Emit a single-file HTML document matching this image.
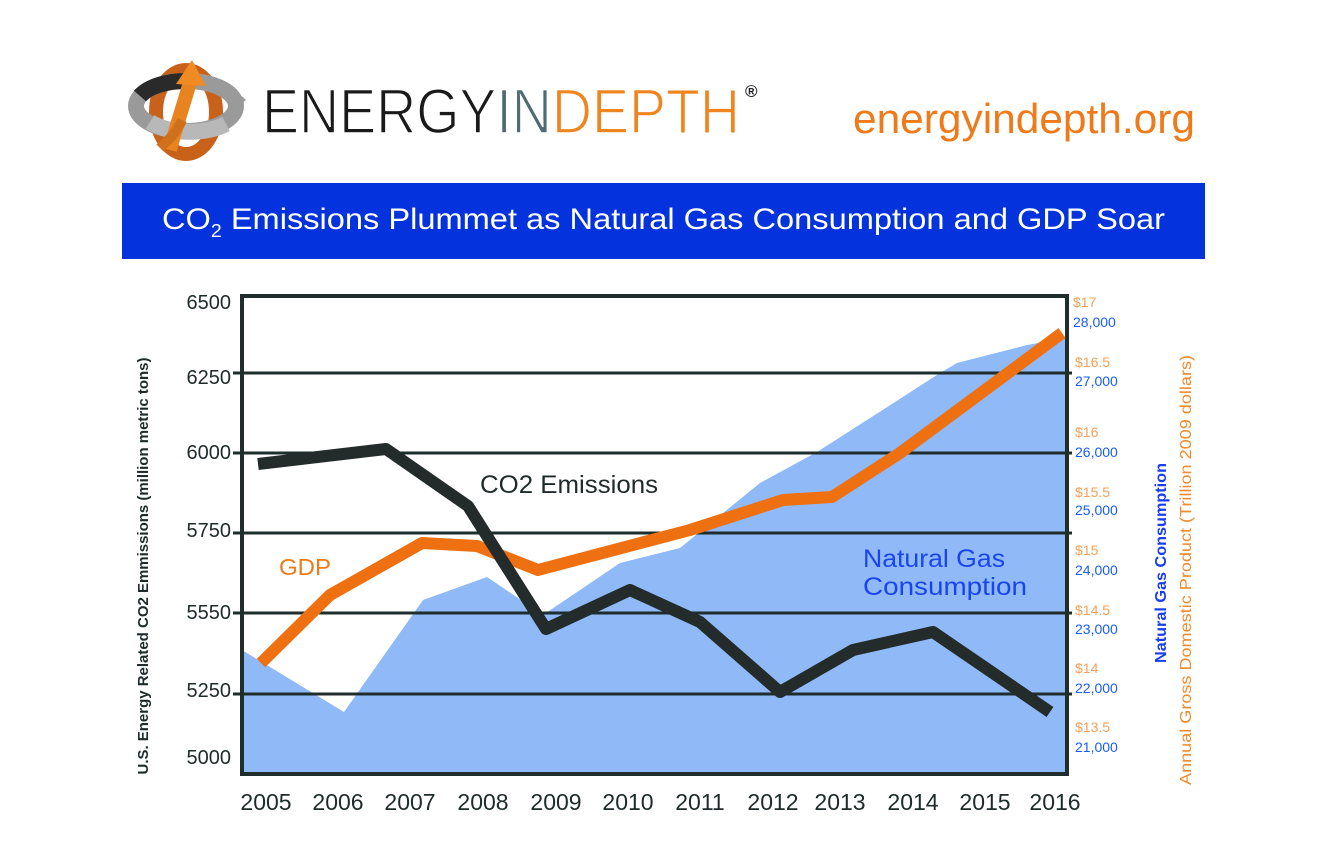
<!DOCTYPE html>
<html>
<head>
<meta charset="utf-8">
<style>
  html,body{margin:0;padding:0;background:#fff;}
  body{width:1335px;height:864px;overflow:hidden;}
  svg{display:block;}
  text{font-family:"Liberation Sans","DejaVu Sans",sans-serif;}
</style>
</head>
<body>
<svg width="1335" height="864" viewBox="0 0 1335 864" xmlns="http://www.w3.org/2000/svg">
  <rect width="1335" height="864" fill="#ffffff"/>

  <!-- Logo icon -->
  <g>
    <ellipse cx="186" cy="112" rx="30" ry="42" fill="none" stroke="#c8621a" stroke-width="14"/>
    <ellipse cx="186" cy="106" rx="50" ry="25" fill="none" stroke="#9a9a9a" stroke-width="16"/>
    <path d="M140,96 A50,25 0 0,1 186,81" fill="none" stroke="#2a2a2a" stroke-width="16"/>
    <path d="M150,122 A50,25 0 0,0 226,124" fill="none" stroke="#b8b8b8" stroke-width="16"/>
    <path d="M170,150 C175,130 182,110 190,82" fill="none" stroke="#e88420" stroke-width="14"/>
    <polygon points="176,84 192,60 206,86" fill="#f08a22"/>
    <polygon points="228,114 246,100 228,84" fill="#9a9a9a"/>
    <path d="M160,148 C168,140 176,134 182,120" fill="none" stroke="#d0701c" stroke-width="10"/>
  </g>

  <!-- Logo text (thinned with white stroke) -->
  <text x="262" y="133" font-size="63" textLength="478" lengthAdjust="spacingAndGlyphs" stroke="#ffffff" stroke-width="1.6"><tspan fill="#1a1a1a">ENERGY</tspan><tspan fill="#4e6c72">IN</tspan><tspan fill="#f0841e">DEPTH</tspan></text>
  <text x="745" y="97" font-size="17" font-weight="bold" fill="#222">®</text>

  <text x="853" y="133" font-size="42" textLength="342" lengthAdjust="spacingAndGlyphs" fill="#ef7a1a">energyindepth.org</text>

  <!-- Title bar -->
  <rect x="122" y="183" width="1083" height="76" fill="#0433dd"/>
  <text x="162" y="229" font-size="30" fill="#ffffff" textLength="1003" lengthAdjust="spacingAndGlyphs">CO<tspan font-size="18" dy="8">2</tspan><tspan dy="-8"> Emissions Plummet as Natural Gas Consumption and GDP Soar</tspan></text>

  <!-- natural gas area -->
  <polygon fill="#8fb9f7" points="242,650 344,712 423,600 487,577 543,615 620,563 680,548 760,483 817,452 867,420 940,373 957,363 1027,345 1067,338 1067,774 242,774"/>

  <!-- gridlines -->
  <g stroke="#1f2d2d" stroke-width="3">
    <line x1="233" y1="373" x2="1072" y2="373"/>
    <line x1="233" y1="453" x2="1072" y2="453"/>
    <line x1="233" y1="533" x2="1072" y2="533"/>
    <line x1="233" y1="613" x2="1072" y2="613"/>
    <line x1="233" y1="694" x2="1072" y2="694"/>
  </g>
  <rect x="242" y="296" width="825" height="478" fill="none" stroke="#1f2d2d" stroke-width="4"/>

  <!-- GDP line -->
  <polyline fill="none" stroke="#ef7010" stroke-width="12" stroke-linejoin="round" points="261,663 330,595 422,543 477,546 538,570 690,530 783,500 832,497 900,453 1062,333"/>

  <!-- CO2 line -->
  <polyline fill="none" stroke="#232b2b" stroke-width="12" stroke-linejoin="round" points="258,464 386,449 468,506 546,629 630,590 700,622 780,692 853,650 933,632 1050,712"/>

  <!-- in-chart labels -->
  <text x="480" y="493" font-size="25" fill="#1f2a2a" textLength="178" lengthAdjust="spacingAndGlyphs">CO2 Emissions</text>
  <text x="279" y="575" font-size="23" fill="#ef7a1a" textLength="52" lengthAdjust="spacingAndGlyphs">GDP</text>
  <text x="863" y="567" font-size="25" fill="#1a44ee" textLength="142" lengthAdjust="spacingAndGlyphs">Natural Gas</text>
  <text x="863" y="595" font-size="25" fill="#1a44ee" textLength="164" lengthAdjust="spacingAndGlyphs">Consumption</text>

  <!-- left axis labels -->
  <g font-size="20" fill="#1f2a2a" text-anchor="end">
    <text x="231" y="309">6500</text>
    <text x="231" y="384">6250</text>
    <text x="231" y="459">6000</text>
    <text x="231" y="537">5750</text>
    <text x="231" y="619">5550</text>
    <text x="231" y="697">5250</text>
    <text x="231" y="764">5000</text>
  </g>

  <text transform="translate(148,566) rotate(-90)" font-size="15" font-weight="bold" fill="#1f2a2a" text-anchor="middle" textLength="417" lengthAdjust="spacingAndGlyphs">U.S. Energy Related CO2 Emmissions (million metric tons)</text>

  <!-- right axis labels -->
  <g font-size="14">
    <g fill="#f5a05a">
      <text x="1073" y="307">$17</text>
      <text x="1075" y="367">$16.5</text>
      <text x="1075" y="437">$16</text>
      <text x="1075" y="497">$15.5</text>
      <text x="1075" y="555">$15</text>
      <text x="1075" y="615">$14.5</text>
      <text x="1075" y="673">$14</text>
      <text x="1075" y="732">$13.5</text>
    </g>
    <g fill="#1a5cf5">
      <text x="1073" y="327">28,000</text>
      <text x="1075" y="386">27,000</text>
      <text x="1075" y="457">26,000</text>
      <text x="1075" y="515">25,000</text>
      <text x="1075" y="575">24,000</text>
      <text x="1075" y="634">23,000</text>
      <text x="1075" y="693">22,000</text>
      <text x="1075" y="752">21,000</text>
    </g>
  </g>

  <text transform="translate(1166,563) rotate(-90)" font-size="16" font-weight="bold" fill="#1a3cf0" text-anchor="middle" textLength="200" lengthAdjust="spacingAndGlyphs">Natural Gas Consumption</text>
  <text transform="translate(1191,570) rotate(-90)" font-size="16" fill="#f08a2a" text-anchor="middle" textLength="430" lengthAdjust="spacingAndGlyphs">Annual Gross Domestic Product (Trillion 2009 dollars)</text>

  <!-- x-axis labels -->
  <g font-size="23" fill="#1f2a2a" text-anchor="middle">
    <text x="266" y="810">2005</text>
    <text x="338" y="810">2006</text>
    <text x="410" y="810">2007</text>
    <text x="483" y="810">2008</text>
    <text x="556" y="810">2009</text>
    <text x="628" y="810">2010</text>
    <text x="700" y="810">2011</text>
    <text x="773" y="810">2012</text>
    <text x="840" y="810">2013</text>
    <text x="913" y="810">2014</text>
    <text x="985" y="810">2015</text>
    <text x="1055" y="810">2016</text>
  </g>
</svg>
</body>
</html>
